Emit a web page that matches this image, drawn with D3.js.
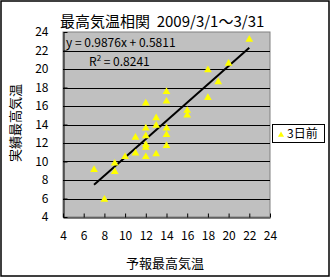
<!DOCTYPE html>
<html>
<head>
<meta charset="utf-8">
<script src="https://cdn.jsdelivr.net/npm/d3@7"></script>
<style>
  body { margin: 0; background: #fff; }
  text { font-family: "Noto Sans CJK JP", "DejaVu Sans", sans-serif; fill: #000; }
</style>
</head>
<body>
<div id="chart"></div>
<script>
// forecast (x) vs actual (y) max temperature, March 2009
var forecast = [7, 8, 9, 9, 10, 11, 11, 12, 12, 12, 12, 12, 12, 13, 13, 13,
                14, 14, 14, 14, 14, 16, 16, 18, 18, 19, 20, 22];
var actual   = [9.1, 5.9, 9.8, 8.9, 10.5, 12.6, 10.9, 13.6, 12.75, 11.8, 11.5, 10.5, 16.3,
                14.7, 13.9, 10.8, 13.6, 12.9, 11.7, 17.55, 16.5, 15.5, 15.0, 19.9, 16.9, 18.6, 20.6, 23.2];
var xTicks = [4, 6, 8, 10, 12, 14, 16, 18, 20, 22, 24];
var yTicks = [4, 6, 8, 10, 12, 14, 16, 18, 20, 22, 24];
var slope = 0.9876, intercept = 0.5811;
var eqLabel = "y = 0.9876x + 0.5811";
var r2Value = "0.8241";
var title = "最高気温相関  2009/3/1～3/31";
var xTitle = "予報最高気温";
var yTitle = "実績最高気温";
var seriesName = "3日前";

var W = 331, H = 278;
var plot = {left: 63, top: 32, right: 270, bottom: 217};

var svg = d3.select('#chart').append('svg')
  .attr('width', W)
  .attr('height', H);

// outer frame
svg.append('rect')
  .attr('x', 1).attr('y', 1)
  .attr('width', 328).attr('height', 275)
  .style('fill', 'none')
  .style('stroke', '#000')
  .style('stroke-width', 1.5);

var x = d3.scaleLinear().domain([4, 24]).range([plot.left, plot.right]);
var y = d3.scaleLinear().domain([4, 24]).range([plot.bottom, plot.top]);

// plot background
svg.append('rect')
  .attr('x', plot.left).attr('y', plot.top)
  .attr('width', plot.right - plot.left)
  .attr('height', plot.bottom - plot.top)
  .style('fill', '#c0c0c0')
  .style('stroke', '#808080');

// horizontal gridlines
svg.append('g').selectAll('line')
  .data(yTicks.slice(1, -1))
  .enter().append('line')
  .attr('x1', plot.left).attr('x2', plot.right)
  .attr('y1', function(d){ return Math.round(y(d)) + 0.5; })
  .attr('y2', function(d){ return Math.round(y(d)) + 0.5; })
  .style('stroke', '#000');

// x axis (ticks pointing into the plot)
var xAxis = svg.append('g')
  .attr('transform', 'translate(0,' + (plot.bottom + 0.5) + ')')
  .call(d3.axisBottom(x).tickValues(xTicks).tickSizeInner(-4).tickSizeOuter(0).tickPadding(14));
xAxis.select('.domain').style('stroke', '#000');
xAxis.selectAll('text').style('font-size', '12px').attr('dy', '0.71em');

// y axis
var yAxis = svg.append('g')
  .attr('transform', 'translate(' + (plot.left + 0.5) + ',0)')
  .call(d3.axisLeft(y).tickValues(yTicks).tickSizeInner(-4).tickSizeOuter(0).tickPadding(15));
yAxis.select('.domain').style('stroke', '#000');
yAxis.selectAll('text').style('font-size', '12px');

// trendline
var xExt = d3.extent(forecast);
svg.append('line')
  .attr('x1', x(xExt[0])).attr('y1', y(slope * xExt[0] + intercept))
  .attr('x2', x(xExt[1])).attr('y2', y(slope * xExt[1] + intercept))
  .style('stroke', '#000')
  .style('stroke-width', 2);

// points
var tri = d3.symbol().type(d3.symbolTriangle).size(26);
svg.append('g').selectAll('path')
  .data(forecast.map(function(d, i){ return {x: d, y: actual[i]}; }))
  .enter().append('path')
  .attr('d', tri)
  .attr('transform', function(d){ return 'translate(' + x(d.x) + ',' + y(d.y) + ')'; })
  .style('fill', '#ffff00');

// equation labels
svg.append('text')
  .attr('x', 66).attr('y', 47)
  .style('font-size', '12px')
  .text(eqLabel);
var r2 = svg.append('text')
  .attr('x', 89).attr('y', 66)
  .style('font-size', '12px');
r2.append('tspan').text('R');
r2.append('tspan').attr('dy', -5).style('font-size', '8px').text('2');
r2.append('tspan').attr('dy', 5).text(' = ' + r2Value);

// title
svg.append('text')
  .attr('x', 60).attr('y', 27)
  .style('font-size', '15px')
  .style('white-space', 'pre')
  .text(title);

// axis titles
svg.append('text')
  .attr('x', 165).attr('y', 268)
  .attr('text-anchor', 'middle')
  .style('font-size', '13px')
  .text(xTitle);
svg.append('text')
  .attr('transform', 'translate(20,123) rotate(-90)')
  .attr('text-anchor', 'middle')
  .style('font-size', '13px')
  .text(yTitle);

// legend
var lg = svg.append('g').attr('transform', 'translate(272,124)');
lg.append('rect')
  .attr('x', 0.5).attr('y', 0.5)
  .attr('width', 52).attr('height', 18)
  .style('fill', '#fff')
  .style('stroke', '#000');
lg.append('path')
  .attr('d', d3.symbol().type(d3.symbolTriangle).size(16))
  .attr('transform', 'translate(9,11)')
  .style('fill', '#ffff00');
lg.append('text')
  .attr('x', 15).attr('y', 14)
  .style('font-size', '12px')
  .text(seriesName);
</script>
</body>
</html>
